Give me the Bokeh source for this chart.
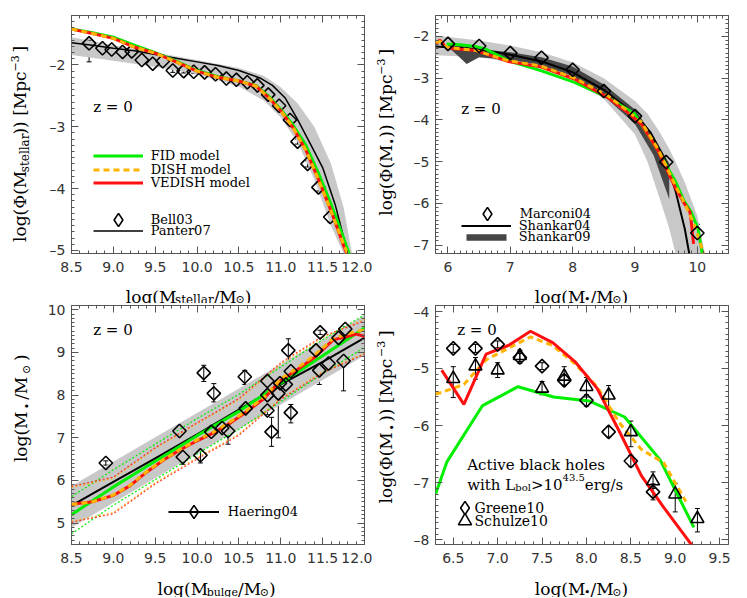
import numpy as np
from bokeh.plotting import figure
from bokeh.layouts import column, row
from bokeh.models import (Label, LinearAxis, Range1d, SingleIntervalTicker, CustomJSTickFormatter,
                          Legend, LegendItem, ColumnDataSource, Whisker)
from bokeh.embed import file_html
from bokeh.resources import INLINE

# ---------------- Panel 1: stellar mass function ----------------
p1_bell_x = [8.71, 8.87, 8.98, 9.11, 9.22, 9.34, 9.47, 9.59, 9.71, 9.84, 9.96, 10.09,
             10.22, 10.35, 10.47, 10.60, 10.72, 10.85, 10.98, 11.11, 11.20, 11.32, 11.45, 11.59]
p1_bell_y = [-1.65, -1.73, -1.75, -1.79, -1.78, -1.92, -1.98, -1.94, -2.09, -2.10, -2.11, -2.12,
             -2.15, -2.22, -2.24, -2.28, -2.33, -2.48, -2.66, -2.89, -3.24, -3.60, -3.98, -4.46]
p1_bell_lo = [-1.95, -1.76, -1.78, -1.82, -1.81, -1.95, -2.01, -1.97, -2.12, -2.13, -2.14, -2.15,
              -2.18, -2.25, -2.27, -2.31, -2.36, -2.51, -2.69, -2.92, -3.28, -3.65, -4.04, -4.55]
p1_bell_hi = [-1.60, -1.70, -1.72, -1.76, -1.75, -1.89, -1.95, -1.91, -2.06, -2.07, -2.08, -2.09,
              -2.12, -2.19, -2.21, -2.25, -2.30, -2.45, -2.63, -2.86, -3.20, -3.55, -3.92, -4.38]
p1_panter_x = [8.5, 8.75, 9.0, 9.25, 9.5, 9.75, 10.0, 10.25, 10.5, 10.75, 10.9, 11.05, 11.2,
               11.35, 11.5, 11.65, 11.8]
p1_panter_y = [-1.64, -1.68, -1.73, -1.77, -1.83, -1.89, -1.95, -2.01, -2.09, -2.21, -2.33,
               -2.53, -2.88, -3.27, -3.66, -4.26, -5.05]
p1_band_x = [8.5, 9.0, 9.5, 10.0, 10.5, 10.8, 11.0, 11.2, 11.4, 11.6, 11.75, 11.85]
p1_band_hi = [-1.55, -1.68, -1.80, -1.92, -2.05, -2.18, -2.36, -2.62, -3.00, -3.60, -4.30, -5.05]
p1_band_lo = [-1.84, -1.93, -2.03, -2.15, -2.35, -2.58, -2.85, -3.25, -3.85, -4.60, -5.05, -5.05]
p1_mod_x = [8.5, 8.75, 9.0, 9.25, 9.5, 9.75, 10.0, 10.25, 10.5, 10.7, 10.85, 11.0, 11.15,
            11.3, 11.45, 11.6, 11.75, 11.83]
p1_fid_y = [-1.42, -1.48, -1.55, -1.68, -1.80, -1.94, -2.09, -2.19, -2.26, -2.33, -2.50,
            -2.72, -2.98, -3.30, -3.75, -4.25, -4.80, -5.10]
p1_dish_y = [-1.42, -1.49, -1.57, -1.71, -1.81, -1.95, -2.10, -2.20, -2.26, -2.34, -2.52,
             -2.74, -3.02, -3.38, -3.85, -4.36, -4.90, -5.15]
p1_vedish_y = [-1.42, -1.49, -1.57, -1.71, -1.81, -1.95, -2.10, -2.20, -2.26, -2.34, -2.52,
               -2.74, -3.02, -3.38, -3.85, -4.36, -4.92, -5.20]

# ---------------- Panel 2: black hole mass function ----------------
p2_marconi_x = [6.0, 6.5, 7.0, 7.5, 8.0, 8.5, 9.0, 9.5, 10.0]
p2_marconi_y = [-2.18, -2.23, -2.40, -2.51, -2.80, -3.31, -3.91, -5.01, -6.71]
p2_marconi_lo = [-2.23, -2.28, -2.45, -2.56, -2.86, -3.38, -4.02, -5.12, -6.90]
p2_marconi_hi = [-2.13, -2.18, -2.35, -2.46, -2.74, -3.24, -3.76, -4.80, -6.50]
p2_shankar04_x = [5.8, 6.0, 6.5, 7.0, 7.5, 8.0, 8.5, 9.0, 9.25, 9.5, 9.65, 9.8, 9.87]
p2_shankar04_y = [-2.24, -2.26, -2.31, -2.44, -2.60, -2.86, -3.28, -3.87, -4.30, -5.02,
                  -5.70, -6.62, -7.20]
p2_shankar09_x = [6.0, 6.15, 6.3, 6.5, 7.0, 7.5, 8.0, 8.5, 9.0, 9.3, 9.55]
p2_shankar09_hi = [-2.20, -2.22, -2.25, -2.30, -2.38, -2.50, -2.72, -3.15, -3.75, -4.40, -5.05]
p2_shankar09_lo = [-2.25, -2.45, -2.66, -2.50, -2.56, -2.70, -2.95, -3.42, -4.10, -4.85, -5.90]
p2_band_x = [5.8, 6.5, 7.0, 7.5, 8.0, 8.5, 9.0, 9.2, 9.4, 9.55, 9.65, 9.8, 10.0, 10.12]
p2_band_hi = [-1.98, -2.10, -2.22, -2.38, -2.62, -3.00, -3.55, -3.85, -4.30, -4.70, -5.00,
              -5.50, -6.30, -7.20]
p2_band_lo = [-2.45, -2.50, -2.62, -2.78, -3.02, -3.50, -4.35, -5.00, -5.90, -6.60, -7.20,
              -7.20, -7.20, -7.20]
p2_fid_x = [5.98, 6.2, 6.43, 6.6, 6.96, 7.49, 8.03, 8.56, 8.99, 9.37, 9.64, 9.79, 9.9, 10.01, 10.08]
p2_fid_y = [-2.18, -2.20, -2.24, -2.30, -2.58, -2.82, -3.10, -3.46, -3.85, -4.74, -5.45,
            -5.95, -6.20, -6.60, -7.20]
p2_vedish_x = [5.81, 5.87, 5.98, 6.2, 6.43, 6.96, 7.49, 8.03, 8.56, 8.88, 9.1, 9.37, 9.64,
               9.79, 9.88, 9.9, 9.94]
p2_vedish_y = [-2.18, -2.09, -2.28, -2.31, -2.33, -2.60, -2.73, -3.02, -3.46, -3.82, -4.10,
               -4.74, -5.60, -6.00, -6.20, -6.40, -6.97]
p2_dish_x = [5.81, 5.87, 5.98, 6.2, 6.43, 6.96, 7.49, 8.03, 8.56, 8.88, 9.1, 9.37, 9.64,
             9.79, 9.95, 10.1]
p2_dish_y = [-2.15, -2.12, -2.26, -2.30, -2.33, -2.58, -2.71, -3.00, -3.42, -3.78, -4.05,
             -4.70, -5.55, -5.98, -6.50, -7.20]

# ---------------- Panel 3: M_BH - M_bulge ----------------
p3_haering_x = [8.91, 9.79, 9.83, 10.04, 10.08, 10.20, 10.17, 10.30, 10.37, 10.57, 10.58,
                10.84, 10.84, 10.84, 10.89, 10.97, 10.99, 11.06, 11.09, 11.12, 11.12, 11.42,
                11.47, 11.46, 11.57, 11.69, 11.77, 11.75]
p3_haering_y = [6.41, 7.16, 6.55, 6.59, 8.52, 8.04, 7.14, 7.23, 7.16, 8.43, 7.69,
                8.33, 8.00, 7.64, 7.14, 8.04, 8.28, 8.25, 9.05, 8.56, 7.59, 9.05,
                9.47, 8.58, 8.74, 9.34, 9.55, 8.80]
p3_haering_lo = [6.36, 7.06, 6.38, 6.41, 8.32, 7.84, 6.99, 7.16, 6.85, 8.25, 7.44,
                 8.18, 7.90, 7.54, 6.80, 7.00, 8.18, 8.15, 8.75, 8.46, 7.35, 8.95,
                 9.42, 8.25, 8.59, 9.10, 9.50, 8.10]
p3_haering_hi = [6.46, 7.26, 6.70, 6.77, 8.70, 8.27, 7.29, 7.30, 7.42, 8.58, 7.94,
                 8.48, 8.10, 7.74, 7.48, 8.30, 8.38, 8.35, 9.32, 8.66, 7.78, 9.15,
                 9.52, 8.75, 8.89, 9.50, 9.60, 8.90]
p3_fit_x = [8.5, 9.0, 9.5, 10.0, 10.5, 11.0, 11.5, 12.0]
p3_fit_y = [5.41, 5.97, 6.52, 7.08, 7.66, 8.25, 8.78, 9.34]
p3_band_x = [8.5, 10.25, 12.0]
p3_band_hi = [5.87, 7.87, 9.87]
p3_band_lo = [4.90, 6.92, 8.93]
p3_fid_x = [8.5, 9.0, 9.5, 10.0, 10.5, 11.0, 11.5, 12.0]
p3_fid_y = [5.20, 5.85, 6.45, 7.05, 7.62, 8.28, 8.92, 9.57]
p3_fid_up = [5.62, 6.25, 6.85, 7.45, 8.02, 8.66, 9.30, 9.88]
p3_fid_dn = [4.75, 5.42, 6.02, 6.62, 7.20, 7.85, 8.50, 9.12]
p3_ved_x = [8.5, 8.75, 9.0, 9.2, 9.4, 9.6, 9.8, 10.0, 10.2, 10.4, 10.6, 10.8, 11.0, 11.2,
            11.4, 11.63, 11.75, 11.9, 12.0]
p3_ved_y = [5.44, 5.50, 5.65, 5.88, 6.20, 6.48, 6.72, 6.93, 7.12, 7.35, 7.62, 7.92, 8.35,
            8.60, 8.88, 9.30, 9.35, 9.43, 9.38]
p3_dish_y = [5.44, 5.50, 5.66, 5.89, 6.21, 6.49, 6.73, 6.95, 7.14, 7.38, 7.65, 7.95, 8.38,
             8.64, 8.93, 9.33, 9.40, 9.50, 9.52]
p3_sc_x = [8.5, 9.0, 9.5, 10.0, 10.5, 11.0, 11.5, 12.0]
p3_dish_up = [5.84, 6.05, 6.75, 7.33, 7.89, 8.73, 9.35, 9.78]
p3_dish_dn = [5.04, 5.25, 5.95, 6.53, 7.09, 7.93, 8.55, 8.98]
p3_ved_up = [5.86, 6.08, 6.77, 7.35, 7.92, 8.76, 9.38, 9.74]
p3_ved_dn = [5.02, 5.22, 5.92, 6.50, 7.06, 7.90, 8.52, 8.96]

# ---------------- Panel 4: active black hole mass function ----------------
p4_greene_x = [6.5, 6.75, 7.0, 7.25, 7.5, 7.75, 8.0, 8.25, 8.5, 8.75]
p4_greene_y = [-4.65, -4.65, -4.58, -4.81, -4.96, -5.21, -5.56, -6.11, -6.62, -7.16]
p4_greene_lo = [-4.72, -4.72, -4.64, -4.88, -5.02, -5.30, -5.66, -6.20, -6.72, -7.30]
p4_greene_hi = [-4.58, -4.58, -4.52, -4.74, -4.90, -5.12, -5.46, -6.02, -6.52, -7.02]
p4_schulze_x = [6.5, 6.75, 7.0, 7.25, 7.5, 7.75, 8.0, 8.25, 8.5, 8.75, 9.0, 9.25]
p4_schulze_y = [-5.18, -4.96, -5.03, -4.78, -5.35, -5.14, -5.32, -5.47, -6.11, -6.97, -7.20, -7.63]
p4_schulze_lo = [-5.51, -5.19, -5.16, -4.91, -5.46, -5.29, -5.50, -5.70, -6.37, -7.10, -7.51, -7.86]
p4_schulze_hi = [-4.97, -4.81, -4.90, -4.68, -5.23, -4.97, -5.16, -5.30, -5.92, -6.81, -7.01, -7.45]
p4_ved_x = [6.37, 6.62, 6.87, 7.12, 7.37, 7.62, 7.87, 8.12, 8.37, 8.62, 8.87, 9.12, 9.2]
p4_ved_y = [-5.03, -5.63, -4.75, -4.60, -4.35, -4.55, -4.88, -5.35, -6.10, -6.88, -7.43, -7.95, -8.12]
p4_dish_x = [6.3, 6.37, 6.62, 6.87, 7.12, 7.37, 7.62, 7.87, 8.12, 8.37, 8.62, 8.87, 9.12]
p4_dish_y = [-5.45, -5.42, -5.28, -4.85, -4.65, -4.45, -4.60, -4.92, -5.32, -5.95, -6.42, -6.65, -7.33]
p4_fid_x = [6.3, 6.43, 6.83, 7.23, 7.63, 8.03, 8.43, 8.83, 9.21]
p4_fid_y = [-7.20, -6.63, -5.65, -5.32, -5.50, -5.57, -5.85, -6.60, -7.78]

# ---------------- styling ----------------
GREEN = "#00ee00"
ORANGE = "#ffb400"
RED = "#ff1010"
GREY = "#c8c8c8"
DARK = "#454545"
AX = "#555555"
SERIF = "DejaVu Serif"
SANS = "DejaVu Sans"
NAN = [float("nan")]

W = {' ': 0.318, '(': 0.390, ')': 0.390, '[': 0.390, ']': 0.390, '/': 0.337, '.': 0.318,
     '>': 0.838, '\u2212': 0.838, '=': 0.838, '0': 0.636, '1': 0.636, '2': 0.636, '3': 0.636,
     '4': 0.636, '5': 0.636, 'A': 0.722, 'L': 0.667, 'M': 0.946, '\u03a6': 0.820,
     '\u2022': 0.590, '\u2299': 0.838, 'a': 0.596, 'b': 0.640, 'c': 0.560, 'e': 0.592,
     'g': 0.640, 'h': 0.644, 'i': 0.320, 'k': 0.610, 'l': 0.320, 'o': 0.602, 'p': 0.640,
     'r': 0.478, 's': 0.513, 't': 0.402, 'u': 0.644, 'w': 0.856}


def tw(s, size):
    return sum(W.get(c, 0.6) for c in s) * size


def rich(p, parts, x0, y0, units="screen"):
    # horizontal text built from pieces (baseline at y0, starting at x0)
    pos = 0.0
    for txt, size, shift in parts:
        p.add_layout(Label(x=x0 + pos, y=y0 + shift, x_units=units, y_units=units, text=txt,
                           text_font=SERIF, text_font_size=f"{size}px", text_color="black",
                           text_baseline="alphabetic", text_align="left"))
        pos += tw(txt, size)


GAP = 4.5
UPW = 1.07   # rotated text renders a little wider than the width table


def up_total(parts):
    return sum(tw(t, s) * UPW for t, s, _ in parts) + GAP * (len(parts) - 1)


def rich_up(p, parts, bx, y0):
    # text reading bottom-to-top; bx = x of main baseline, y0 = start of text (data = px)
    pos = 0.0
    for txt, size, shift in parts:
        w = tw(txt, size) * UPW
        cx = (bx - shift) - 0.345 * size
        p.add_layout(Label(x=cx, y=y0 + pos + w / 2, text=txt, angle=np.pi / 2,
                           text_font=SERIF, text_font_size=f"{size}px", text_color="black",
                           text_baseline="middle", text_align="center"))
        pos += w + GAP


def text(p, s, ox, oy, size=15):
    p.add_layout(Label(x=ox, y=oy, x_units="screen", y_units="screen", text=s,
                       text_font=SERIF, text_font_size=f"{size}px", text_color="black",
                       text_baseline="middle", text_align="left"))


def label_fig(w, h):
    f = figure(width=w, height=h, x_range=Range1d(0, w), y_range=Range1d(0, h), min_border=0,
               toolbar_location=None, output_backend="svg", x_axis_location=None,
               y_axis_location=None)
    f.xgrid.visible = False
    f.ygrid.visible = False
    f.outline_line_color = None
    f.background_fill_color = "white"
    f.border_fill_color = "white"
    return f


def xlabel_fig(w, h, parts, cx, base):
    f = label_fig(w, h)
    total = sum(tw(t, s) for t, s, _ in parts)
    rich(f, parts, cx - total / 2, base, units="data")
    return f


def ylabel_fig(w, h, parts, bx, cy):
    f = label_fig(w, h)
    rich_up(f, parts, bx, cy - up_total(parts) / 2)
    return f


def fmt(dec):
    return CustomJSTickFormatter(
        code=f"var s = Math.abs(tick).toFixed({dec}); return (tick < -1e-9 ? '\u2013' : '') + s;")


def style(ax, interval, minor, dec, labels=True):
    ax.ticker = SingleIntervalTicker(interval=interval, num_minor_ticks=minor)
    ax.axis_line_color = None
    ax.major_tick_line_color = AX
    ax.minor_tick_line_color = AX
    ax.major_tick_in = 7
    ax.major_tick_out = 0
    ax.minor_tick_in = 3
    ax.minor_tick_out = 0
    if labels:
        ax.formatter = fmt(dec)
        ax.major_label_text_font = SANS
        ax.major_label_text_font_size = "14px"
        ax.major_label_text_color = "#333333"
        ax.major_label_standoff = 6
    else:
        ax.formatter = CustomJSTickFormatter(code="return '';")
        ax.major_label_standoff = 0


def make_fig(xr, yr, h, top, xs, ys):
    p = figure(x_range=Range1d(*xr), y_range=Range1d(*yr), width=330, height=h,
               min_border_left=29, min_border_right=8, min_border_top=top,
               min_border_bottom=25, toolbar_location=None, output_backend="svg")
    p.xgrid.visible = False
    p.ygrid.visible = False
    p.outline_line_color = AX
    p.outline_line_width = 1
    p.background_fill_color = "white"
    p.border_fill_color = "white"
    style(p.xaxis[0], *xs)
    p.xaxis[0].major_label_standoff = 8
    style(p.yaxis[0], *ys)
    ta = LinearAxis()
    ra = LinearAxis()
    p.add_layout(ta, "above")
    p.add_layout(ra, "right")
    style(ta, *xs, labels=False)
    style(ra, *ys, labels=False)
    return p


def errbars(p, x, lo, hi):
    src = ColumnDataSource(dict(base=x, lower=lo, upper=hi))
    w = Whisker(source=src, base="base", lower="lower", upper="upper", dimension="height",
                line_color="black", line_width=1)
    w.upper_head.size = 5
    w.lower_head.size = 5
    w.upper_head.line_color = "black"
    w.lower_head.line_color = "black"
    p.add_layout(w)


def diamonds(p, x, y):
    return p.scatter(x, y, marker="square", angle=np.pi / 4, size=9.5, fill_alpha=0,
                     line_color="black", line_width=1.6)


def leg(p, label, rends, left, center, fl, fb, gw, gh, standoff=8):
    lg = Legend(items=[LegendItem(label=label, renderers=rends)],
                location=(left - fl, fb - center - gh / 2), glyph_width=gw, glyph_height=gh,
                label_height=gh, label_width=10, spacing=0, padding=0, margin=0,
                label_standoff=standoff, background_fill_alpha=0, border_line_alpha=0,
                label_text_font=SERIF, label_text_font_size="13px", label_text_color="black")
    p.add_layout(lg)


# frame positions (page pixels)
L1, L2 = 71, 435
B1, B2 = 253, 544
TOP_H, BOT_H = 278, 266          # main figure heights (top row / bottom row)
TOP_XL, BOT_XL = 25, 28          # x-label strip heights
Y_BOT0 = 303                     # page y where the bottom row starts
XB_TOP, XB_BOT = 296, 588        # x-label baselines (page px)
YB_L, YB_R = 25, 19              # rotated-label baselines inside left / right label strips

# ===== Panel 1 =====
p1 = make_fig((8.5, 12.0), (-5.05, -1.2), TOP_H, 15, (0.5, 5, 1), (1, 10, 0))
p1.varea(x=p1_band_x, y1=p1_band_lo, y2=p1_band_hi, color=GREY)
r_pan = p1.line(p1_panter_x, p1_panter_y, color="black", line_width=1.5)
errbars(p1, p1_bell_x, p1_bell_lo, p1_bell_hi)
diamonds(p1, p1_bell_x, p1_bell_y)
r_fid1 = p1.line(p1_mod_x, p1_fid_y, color=GREEN, line_width=3)
r_ved1 = p1.line(p1_mod_x, p1_vedish_y, color=RED, line_width=3)
r_dish1 = p1.line(p1_mod_x, p1_dish_y, color=ORANGE, line_width=3, line_dash="6 4")
r_dia1 = p1.scatter(NAN, NAN, marker="diamond", fill_alpha=0, line_color="black", line_width=1.6)
text(p1, "z = 0", 92.7 - L1, B1 - 106)
leg(p1, "FID model", [r_fid1], 92.7, 156, L1, B1, 50, 13)
leg(p1, "DISH model", [r_dish1], 92.7, 170.7, L1, B1, 50, 13)
leg(p1, "VEDISH model", [r_ved1], 92.7, 183.3, L1, B1, 50, 13)
leg(p1, "Bell03", [r_dia1], 92.7, 219.3, L1, B1, 50, 33)
leg(p1, "Panter07", [r_pan], 92.7, 231.7, L1, B1, 50, 13)
yl1 = ylabel_fig(42, TOP_H, [("log(\u03a6(M", 17, 0), ("stellar", 12, -4), (")) [Mpc", 17, 0),
                             ("\u22123", 11, 7), ("]", 17, 0)], YB_L, TOP_H - 148)
xl1 = xlabel_fig(372, TOP_XL, [("log(M", 17, 0), ("stellar", 12, -3), ("/M", 17, 0),
                               ("\u2299", 11, -3), (")", 17, 0)], 188,
                 TOP_H + TOP_XL - XB_TOP)

# ===== Panel 2 =====
p2 = make_fig((5.8, 10.5), (-7.2, -1.5), TOP_H, 15, (1, 10, 0), (1, 10, 0))
p2.varea(x=p2_band_x, y1=p2_band_lo, y2=p2_band_hi, color=GREY)
r_s09 = p2.varea(x=p2_shankar09_x, y1=p2_shankar09_lo, y2=p2_shankar09_hi, color=DARK)
r_s04 = p2.line(p2_shankar04_x, p2_shankar04_y, color="black", line_width=2)
p2.line(p2_fid_x, p2_fid_y, color=GREEN, line_width=3)
p2.line(p2_vedish_x, p2_vedish_y, color=RED, line_width=3)
p2.line(p2_dish_x, p2_dish_y, color=ORANGE, line_width=3, line_dash="6 4")
errbars(p2, p2_marconi_x, p2_marconi_lo, p2_marconi_hi)
diamonds(p2, p2_marconi_x, p2_marconi_y)
r_dia2 = p2.scatter(NAN, NAN, marker="diamond", fill_alpha=0, line_color="black", line_width=1.6)
text(p2, "z = 0", 460.7 - L2, B1 - 108)
leg(p2, "Marconi04", [r_dia2], 461.7, 213.3, L2, B1, 50, 33)
leg(p2, "Shankar04", [r_s04], 460.7, 226, L2, B1, 50, 13)
leg(p2, "Shankar09", [r_s09], 460.7, 240, L2, B1, 50, 8)
yl2 = ylabel_fig(34, TOP_H, [("log(\u03a6(M", 17, 0), ("\u2022", 11, -5), (")) [Mpc", 17, 0),
                             ("\u22123", 11, 7), ("]", 17, 0)], YB_R, TOP_H - 134.5)
xl2 = xlabel_fig(364, TOP_XL, [("log(M", 17, 0), ("\u2022", 11, -3), ("/M", 17, 0),
                               ("\u2299", 11, -3), (")", 17, 0)], 581 - 372,
                 TOP_H + TOP_XL - XB_TOP)

# ===== Panel 3 =====
p3 = make_fig((8.5, 12.0), (4.5, 10.1), BOT_H, 2, (0.5, 5, 1), (1, 10, 0))
p3.varea(x=p3_band_x, y1=p3_band_lo, y2=p3_band_hi, color=GREY)
for ys in (p3_fid_up, p3_fid_dn):
    p3.line(p3_fid_x, ys, color=GREEN, line_width=1.2, line_dash="2 2")
for ys, c in [(p3_dish_up, ORANGE), (p3_dish_dn, ORANGE), (p3_ved_up, RED), (p3_ved_dn, RED)]:
    p3.line(p3_sc_x, ys, color=c, line_width=1.2, line_dash="2 2", line_alpha=0.8)
r_fit = p3.line(p3_fit_x, p3_fit_y, color="black", line_width=2)
p3.line(p3_fid_x, p3_fid_y, color=GREEN, line_width=3)
p3.line(p3_ved_x, p3_ved_y, color=RED, line_width=3)
p3.line(p3_ved_x, p3_dish_y, color=ORANGE, line_width=3, line_dash="6 4")
errbars(p3, p3_haering_x, p3_haering_lo, p3_haering_hi)
diamonds(p3, p3_haering_x, p3_haering_y)
r_dia3 = p3.scatter(NAN, NAN, marker="diamond", fill_alpha=0, line_color="black", line_width=1.6)
text(p3, "z = 0", 92.7 - L1, B2 - 329.7)
leg(p3, "Haering04", [r_fit, r_dia3], 167.7, 511.3, L1, B2, 51, 33, standoff=9)
yl3 = ylabel_fig(42, BOT_H, [("log(M", 17, 0), ("\u2022", 11, -5), ("/M", 17, 0),
                             ("\u2299", 11, -4), (")", 17, 0)], YB_L + 1, Y_BOT0 + BOT_H - 416.5)
xl3 = xlabel_fig(372, BOT_XL, [("log(M", 17, 0), ("bulge", 11, -4), ("/M", 17, 0),
                               ("\u2299", 11, -4), (")", 17, 0)], 216,
                 Y_BOT0 + BOT_H + BOT_XL - XB_BOT)

# ===== Panel 4 =====
p4 = make_fig((6.3, 9.6), (-8.08, -3.9), BOT_H, 2, (0.5, 5, 1), (1, 10, 0))
p4.line(p4_fid_x, p4_fid_y, color=GREEN, line_width=3)
p4.line(p4_dish_x, p4_dish_y, color=ORANGE, line_width=3, line_dash="6 4")
p4.line(p4_ved_x, p4_ved_y, color=RED, line_width=3)
errbars(p4, p4_greene_x, p4_greene_lo, p4_greene_hi)
errbars(p4, p4_schulze_x, p4_schulze_lo, p4_schulze_hi)
diamonds(p4, p4_greene_x, p4_greene_y)
p4.scatter(p4_schulze_x, p4_schulze_y, marker="triangle", size=13, fill_alpha=0,
           line_color="black", line_width=1.6)
r_dia4 = p4.scatter(NAN, NAN, marker="diamond", fill_alpha=0, line_color="black", line_width=1.6)
r_tri4 = p4.scatter(NAN, NAN, marker="triangle", fill_alpha=0, line_color="black", line_width=1.6)
text(p4, "z = 0", 456.7 - L2, B2 - 329.7)
text(p4, "Active black holes", 466.7 - L2, B2 - 464.7)
rich(p4, [("with L", 15, 0), ("bol", 10, -3), (">10", 15, 0), ("43.5", 10, 7), (" erg/s", 15, 0)],
     466.7 - L2, B2 - 484)
leg(p4, " ", [r_dia4], 448.2, 507.3, L2, B2, 33, 33, standoff=0)
leg(p4, " ", [r_tri4], 448.2, 520.7, L2, B2, 33, 33, standoff=0)
text(p4, "Greene10", 474 - L2, B2 - 507.3, size=14)
text(p4, "Schulze10", 474 - L2, B2 - 520.7, size=14)
yl4 = ylabel_fig(34, BOT_H, [("log(\u03a6(M", 17, 0), ("\u2022", 11, -5), (")) [Mpc", 17, 0),
                             ("\u22123", 11, 7), ("]", 17, 0)], YB_R, Y_BOT0 + BOT_H - 426)
xl4 = xlabel_fig(364, BOT_XL, [("log(M", 17, 0), ("\u2022", 11, -4), ("/M", 17, 0),
                               ("\u2299", 11, -4), (")", 17, 0)], 581 - 372,
                 Y_BOT0 + BOT_H + BOT_XL - XB_BOT)

top = row(column(row(yl1, p1), xl1), column(row(yl2, p2), xl2))
bottom = row(column(row(yl3, p3), xl3), column(row(yl4, p4), xl4))
layout = column(top, bottom)
open("out.html", "w").write(file_html(layout, INLINE))
